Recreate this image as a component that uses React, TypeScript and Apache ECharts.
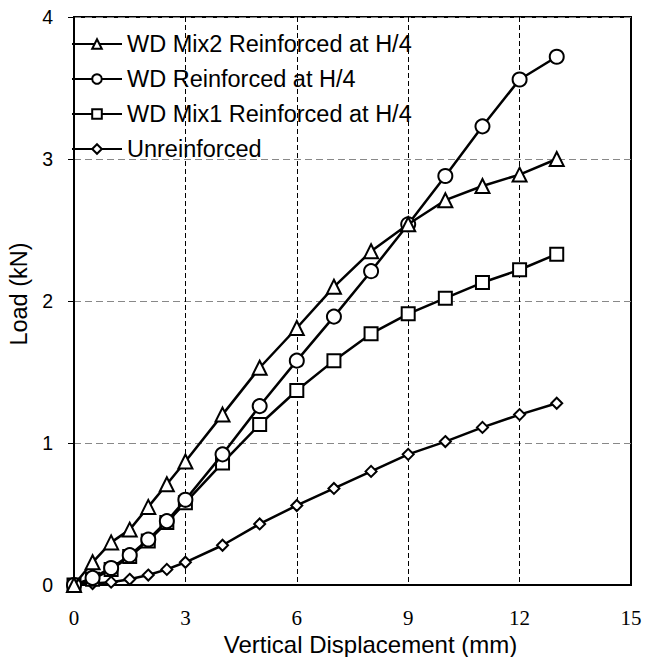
import React, { useEffect, useRef } from "react";
import * as echarts from "echarts";

const xValues = [0, 0.5, 1, 1.5, 2, 2.5, 3, 4, 5, 6, 7, 8, 9, 10, 11, 12, 13];
const mix2Values = [0, 0.16, 0.3, 0.39, 0.55, 0.71, 0.87, 1.2, 1.53, 1.81, 2.1, 2.35, 2.54, 2.71, 2.81, 2.89, 3.0];
const wdValues = [0, 0.05, 0.12, 0.21, 0.32, 0.45, 0.6, 0.92, 1.26, 1.58, 1.89, 2.21, 2.54, 2.88, 3.23, 3.56, 3.72];
const mix1Values = [0, 0.04, 0.11, 0.2, 0.31, 0.44, 0.58, 0.86, 1.13, 1.37, 1.58, 1.77, 1.91, 2.02, 2.13, 2.22, 2.33];
const unrValues = [0, 0.01, 0.02, 0.04, 0.07, 0.11, 0.16, 0.28, 0.43, 0.56, 0.68, 0.8, 0.92, 1.01, 1.11, 1.2, 1.28];

const seriesNames = [
  "WD Mix2 Reinforced at H/4",
  "WD Reinforced at H/4",
  "WD Mix1 Reinforced at H/4",
  "Unreinforced",
];
const seriesValues = [mix2Values, wdValues, mix1Values, unrValues];
const seriesSymbols = ["triangle", "circle", "rect", "diamond"];
const symbolSizes = [14, 14, 13, 11];

const xTicks = { min: 0, max: 15, interval: 3 };
const yTicks = { min: 0, max: 4, interval: 1 };

const SANS = "Liberation Sans, Arial, sans-serif";
const SERIF = "Liberation Serif, Times New Roman, serif";

export default function App() {
  const ref = useRef<HTMLDivElement>(null);
  useEffect(() => {
    if (!ref.current) return;
    const chart = echarts.init(ref.current, null, { renderer: "svg" });
    chart.setOption({
      animation: false,
      backgroundColor: "#fff",
      grid: {
        left: 74,
        top: 17,
        right: 16,
        bottom: 72,
        containLabel: false,
        outerBoundsMode: "none",
        show: true,
        borderColor: "#000",
        borderWidth: 2,
        backgroundColor: "transparent",
      },
      legend: {
        orient: "vertical",
        left: 66,
        top: 27,
        itemWidth: 50,
        itemHeight: 12,
        itemGap: 11,
        data: seriesNames,
        textStyle: { fontFamily: SANS, fontSize: 23.5, color: "#000", lineHeight: 23.5 },
        backgroundColor: "transparent",
      },
      xAxis: {
        type: "value",
        min: xTicks.min,
        max: xTicks.max,
        interval: xTicks.interval,
        name: "Vertical Displacement (mm)",
        nameLocation: "middle",
        nameGap: 34,
        nameTextStyle: { fontFamily: SANS, fontSize: 24, color: "#000", padding: [0, 0, 0, 36] },
        axisLine: { show: true, lineStyle: { color: "#000", width: 2 } },
        axisTick: { show: false },
        axisLabel: { fontFamily: SERIF, fontSize: 21, color: "#000", margin: 22 },
        splitLine: { show: true, lineStyle: { color: "#000", width: 1, type: [5, 3] } },
      },
      yAxis: {
        type: "value",
        min: yTicks.min,
        max: yTicks.max,
        interval: yTicks.interval,
        name: "Load (kN)",
        nameLocation: "middle",
        nameGap: 41,
        nameRotate: 90,
        nameTextStyle: { fontFamily: SANS, fontSize: 23.5, color: "#000", padding: [0, 0, 0, 14] },
        axisLine: { show: true, lineStyle: { color: "#000", width: 2 } },
        axisTick: { show: true, inside: false, length: 6, lineStyle: { color: "#000", width: 1 } },
        axisLabel: { fontFamily: SANS, fontSize: 19.5, color: "#000", margin: 21 },
        splitLine: { show: true, lineStyle: { color: "#888", width: 1, type: [7, 4] } },
      },
      series: seriesNames.map((name, i) => ({
        name,
        type: "line",
        data: xValues.map((x, j) => [x, seriesValues[i][j]]),
        symbol: seriesSymbols[i],
        symbolSize: symbolSizes[i],
        showAllSymbol: true,
        clip: false,
        lineStyle: { color: "#000", width: 2.5 },
        itemStyle: { color: "#fff", borderColor: "#000", borderWidth: 2 },
        z: 10 - i,
      })),
    });
    return () => chart.dispose();
  }, []);
  return (
    <div
      ref={ref}
      style={{ position: "fixed", left: 0, top: 0, width: 647, height: 657 }}
    />
  );
}
